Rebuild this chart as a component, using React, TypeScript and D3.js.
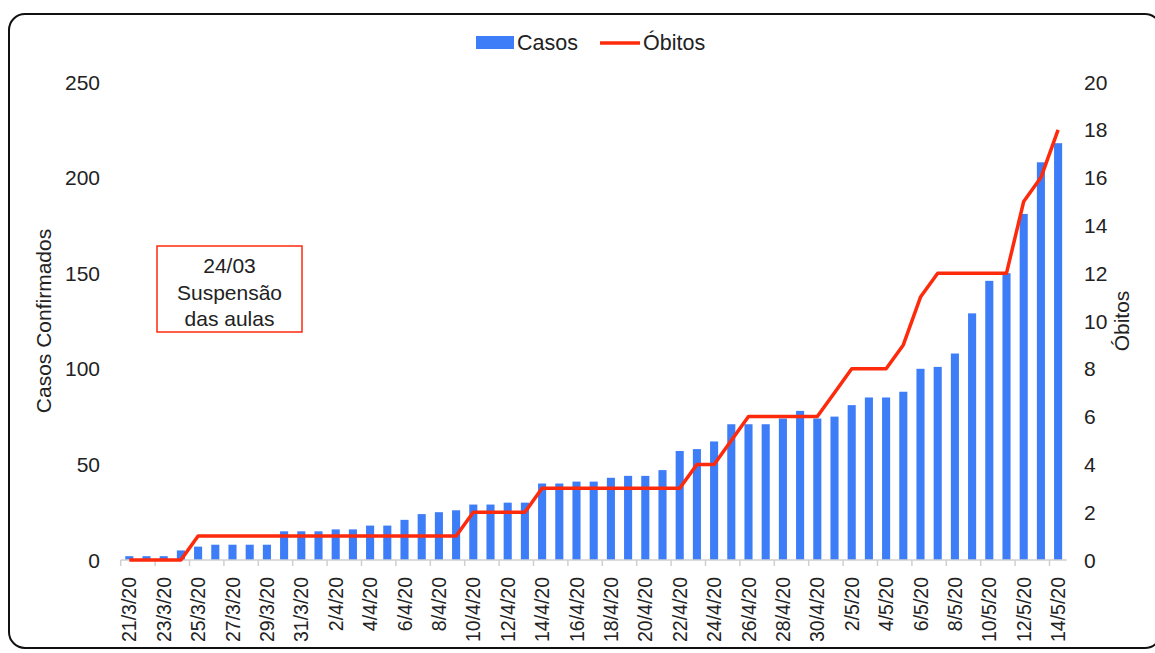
import React from "react";
import * as d3 from "d3";

const dates: string[] = [
  "21/3/20","22/3/20","23/3/20","24/3/20","25/3/20","26/3/20","27/3/20","28/3/20","29/3/20","30/3/20","31/3/20",
  "1/4/20","2/4/20","3/4/20","4/4/20","5/4/20","6/4/20","7/4/20","8/4/20","9/4/20","10/4/20",
  "11/4/20","12/4/20","13/4/20","14/4/20","15/4/20","16/4/20","17/4/20","18/4/20","19/4/20","20/4/20",
  "21/4/20","22/4/20","23/4/20","24/4/20","25/4/20","26/4/20","27/4/20","28/4/20","29/4/20","30/4/20",
  "1/5/20","2/5/20","3/5/20","4/5/20","5/5/20","6/5/20","7/5/20","8/5/20","9/5/20","10/5/20",
  "11/5/20","12/5/20","13/5/20","14/5/20",
];

const casos: number[] = [
  2, 2, 2, 5, 7, 8, 8, 8, 8, 15, 15,
  15, 16, 16, 18, 18, 21, 24, 25, 26, 29,
  29, 30, 30, 40, 40, 41, 41, 43, 44, 44,
  47, 57, 58, 62, 71, 71, 71, 74, 78, 74,
  75, 81, 85, 85, 88, 100, 101, 108, 129, 146,
  150, 181, 208, 218,
];

const obitos: number[] = [
  0, 0, 0, 0, 1, 1, 1, 1, 1, 1, 1,
  1, 1, 1, 1, 1, 1, 1, 1, 1, 2,
  2, 2, 2, 3, 3, 3, 3, 3, 3, 3,
  3, 3, 4, 4, 5, 6, 6, 6, 6, 6,
  7, 8, 8, 8, 9, 11, 12, 12, 12, 12,
  12, 15, 16, 18,
];

const leftTicks: number[] = [0, 50, 100, 150, 200, 250];
const rightTicks: number[] = [0, 2, 4, 6, 8, 10, 12, 14, 16, 18, 20];
const annotationLines: string[] = ["24/03", "Suspensão", "das aulas"];

const W = 1155;
const H = 653;
const plotLeft = 120.7;
const plotRight = 1066.7;
const plotTop = 82;
const plotBottom = 560;
const FONT = "'Liberation Sans', Arial, Helvetica, sans-serif";
const BLUE = "#3d7df8";
const RED = "#fe2a0c";

export default function App() {
  const x = d3.scaleBand<string>().domain(dates).range([plotLeft, plotRight]).paddingInner(0.53).paddingOuter(0.265);
  const xb = d3.scaleBand<string>().domain(dates).range([plotLeft, plotRight]);
  const yL = d3.scaleLinear().domain([0, 250]).range([plotBottom, plotTop]);
  const yR = d3.scaleLinear().domain([0, 20]).range([plotBottom, plotTop]);
  const line = d3
    .line<number>()
    .x((_, i) => (xb(dates[i]) as number) + xb.bandwidth() / 2)
    .y((d) => yR(d));

  const tickPositions = dates
    .map((d, i) => ({ d, i }))
    .filter((o) => o.i % 2 === 0)
    .map((o) => xb(o.d) as number);

  return (
    <svg width={W} height={H} style={{ position: "absolute", left: 0, top: 0, background: "#fff" }} fontFamily={FONT}>
      <rect x={9} y={14} width={1152} height={634} rx={16} ry={16} fill="#fff" stroke="#111" strokeWidth={2} />

      {/* legend */}
      <g>
        <rect x={476} y={36} width={38} height={13} fill={BLUE} />
        <text x={517} y={50} fontSize={21.5} fill="#222">Casos</text>
        <line x1={600} x2={640} y1={43} y2={43} stroke={RED} strokeWidth={3.5} />
        <text x={643} y={50} fontSize={21.5} fill="#222">Óbitos</text>
      </g>

      {/* bars */}
      {casos.map((v, i) => (
        <rect
          key={dates[i]}
          x={x(dates[i]) as number}
          y={yL(v)}
          width={x.bandwidth()}
          height={plotBottom - yL(v)}
          fill={BLUE}
        />
      ))}

      {/* x axis */}
      <line x1={plotLeft} x2={plotRight} y1={plotBottom} y2={plotBottom} stroke="#cfcfcf" strokeWidth={1.5} />
      {tickPositions.map((p, i) => (
        <line key={i} x1={p} x2={p} y1={plotBottom} y2={plotBottom + 6} stroke="#cfcfcf" strokeWidth={1.5} />
      ))}
      {dates.map((d, i) =>
        i % 2 === 0 ? (
          <text
            key={d}
            transform={`translate(${(xb(d) as number) + xb.bandwidth() / 2 + 7},${plotBottom + 17}) rotate(-90)`}
            textAnchor="end"
            fontSize={19.5}
            fill="#222"
          >
            {d}
          </text>
        ) : null
      )}

      {/* line */}
      <path d={line(obitos) || ""} fill="none" stroke={RED} strokeWidth={3.5} strokeLinejoin="round" />

      {/* left axis labels */}
      {leftTicks.map((t) => (
        <text key={t} x={100} y={yL(t) + 7.5} textAnchor="end" fontSize={21} fill="#222">
          {t}
        </text>
      ))}
      <text transform={`translate(51,${(plotTop + plotBottom) / 2}) rotate(-90)`} textAnchor="middle" fontSize={21} fill="#222">
        Casos Confirmados
      </text>

      {/* right axis labels */}
      {rightTicks.map((t) => (
        <text key={t} x={1084} y={yR(t) + 7.5} textAnchor="start" fontSize={21} fill="#222">
          {t}
        </text>
      ))}
      <text transform={`translate(1129,${(plotTop + plotBottom) / 2}) rotate(-90)`} textAnchor="middle" fontSize={21} fill="#222">
        Óbitos
      </text>

      {/* annotation */}
      <rect x={157} y={246} width={145} height={86} fill="#fff" stroke={RED} strokeWidth={1.5} />
      {annotationLines.map((s, i) => (
        <text key={s} x={229.5} y={273 + i * 26.5} textAnchor="middle" fontSize={21} fill="#222">
          {s}
        </text>
      ))}
    </svg>
  );
}
